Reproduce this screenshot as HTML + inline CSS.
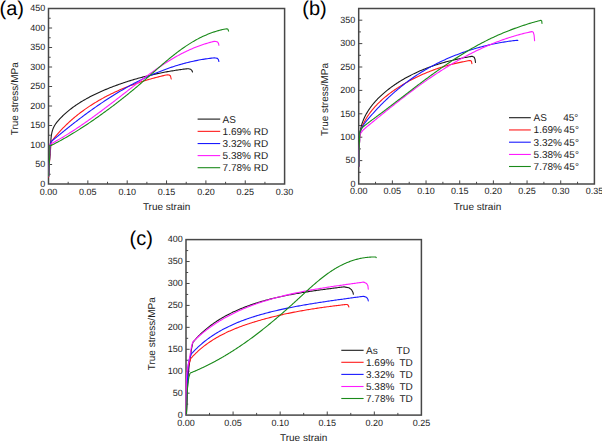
<!DOCTYPE html><html><head><meta charset="utf-8"><style>html,body{margin:0;padding:0;background:#fff;overflow:hidden}svg{display:block}text{font-family:"Liberation Sans",sans-serif;fill:#222;text-rendering:geometricPrecision}.t{font-size:9px}.l{font-size:10px}.p{font-size:20px;fill:#000}</style></head><body>
<svg width="602" height="441" viewBox="0 0 602 441">
<text x="-0.5" y="15.3" class="p">(a)</text>
<text x="302.3" y="14.6" class="p">(b)</text>
<text x="129.5" y="244.8" class="p">(c)</text>
<rect x="48.5" y="8.5" width="236.10" height="175.50" fill="none" stroke="#474747" stroke-width="1.5"/>
<line x1="68.17" y1="184.0" x2="68.17" y2="181.8" stroke="#474747" stroke-width="1"/>
<line x1="87.85" y1="184.0" x2="87.85" y2="180.4" stroke="#474747" stroke-width="1"/>
<line x1="107.53" y1="184.0" x2="107.53" y2="181.8" stroke="#474747" stroke-width="1"/>
<line x1="127.20" y1="184.0" x2="127.20" y2="180.4" stroke="#474747" stroke-width="1"/>
<line x1="146.88" y1="184.0" x2="146.88" y2="181.8" stroke="#474747" stroke-width="1"/>
<line x1="166.55" y1="184.0" x2="166.55" y2="180.4" stroke="#474747" stroke-width="1"/>
<line x1="186.23" y1="184.0" x2="186.23" y2="181.8" stroke="#474747" stroke-width="1"/>
<line x1="205.90" y1="184.0" x2="205.90" y2="180.4" stroke="#474747" stroke-width="1"/>
<line x1="225.58" y1="184.0" x2="225.58" y2="181.8" stroke="#474747" stroke-width="1"/>
<line x1="245.25" y1="184.0" x2="245.25" y2="180.4" stroke="#474747" stroke-width="1"/>
<line x1="264.93" y1="184.0" x2="264.93" y2="181.8" stroke="#474747" stroke-width="1"/>
<line x1="48.5" y1="174.25" x2="50.7" y2="174.25" stroke="#474747" stroke-width="1"/>
<line x1="48.5" y1="164.50" x2="52.1" y2="164.50" stroke="#474747" stroke-width="1"/>
<line x1="48.5" y1="154.75" x2="50.7" y2="154.75" stroke="#474747" stroke-width="1"/>
<line x1="48.5" y1="145.00" x2="52.1" y2="145.00" stroke="#474747" stroke-width="1"/>
<line x1="48.5" y1="135.25" x2="50.7" y2="135.25" stroke="#474747" stroke-width="1"/>
<line x1="48.5" y1="125.50" x2="52.1" y2="125.50" stroke="#474747" stroke-width="1"/>
<line x1="48.5" y1="115.75" x2="50.7" y2="115.75" stroke="#474747" stroke-width="1"/>
<line x1="48.5" y1="106.00" x2="52.1" y2="106.00" stroke="#474747" stroke-width="1"/>
<line x1="48.5" y1="96.25" x2="50.7" y2="96.25" stroke="#474747" stroke-width="1"/>
<line x1="48.5" y1="86.50" x2="52.1" y2="86.50" stroke="#474747" stroke-width="1"/>
<line x1="48.5" y1="76.75" x2="50.7" y2="76.75" stroke="#474747" stroke-width="1"/>
<line x1="48.5" y1="67.00" x2="52.1" y2="67.00" stroke="#474747" stroke-width="1"/>
<line x1="48.5" y1="57.25" x2="50.7" y2="57.25" stroke="#474747" stroke-width="1"/>
<line x1="48.5" y1="47.50" x2="52.1" y2="47.50" stroke="#474747" stroke-width="1"/>
<line x1="48.5" y1="37.75" x2="50.7" y2="37.75" stroke="#474747" stroke-width="1"/>
<line x1="48.5" y1="28.00" x2="52.1" y2="28.00" stroke="#474747" stroke-width="1"/>
<line x1="48.5" y1="18.25" x2="50.7" y2="18.25" stroke="#474747" stroke-width="1"/>
<text x="48.50" y="194.70" text-anchor="middle" class="t">0.00</text>
<text x="87.85" y="194.70" text-anchor="middle" class="t">0.05</text>
<text x="127.20" y="194.70" text-anchor="middle" class="t">0.10</text>
<text x="166.55" y="194.70" text-anchor="middle" class="t">0.15</text>
<text x="205.90" y="194.70" text-anchor="middle" class="t">0.20</text>
<text x="245.25" y="194.70" text-anchor="middle" class="t">0.25</text>
<text x="284.60" y="194.70" text-anchor="middle" class="t">0.30</text>
<text x="45.20" y="186.80" text-anchor="end" class="t">0</text>
<text x="45.20" y="167.30" text-anchor="end" class="t">50</text>
<text x="45.20" y="147.80" text-anchor="end" class="t">100</text>
<text x="45.20" y="128.30" text-anchor="end" class="t">150</text>
<text x="45.20" y="108.80" text-anchor="end" class="t">200</text>
<text x="45.20" y="89.30" text-anchor="end" class="t">250</text>
<text x="45.20" y="69.80" text-anchor="end" class="t">300</text>
<text x="45.20" y="50.30" text-anchor="end" class="t">350</text>
<text x="45.20" y="30.80" text-anchor="end" class="t">400</text>
<text x="45.20" y="11.30" text-anchor="end" class="t">450</text>
<text x="166.6" y="210" text-anchor="middle" class="l">True strain</text>
<text transform="translate(17.7,98.8) rotate(-90)" text-anchor="middle" class="l">True stress/MPa</text>
<polyline points="48.70,176.00 49.30,165.00 49.80,155.00 50.10,147.00 50.40,143.00 50.79,141.92 50.86,140.70 50.94,139.48 51.04,138.27 51.16,137.07 51.31,135.88 51.49,134.70 51.70,133.53 51.94,132.38 52.23,131.25 52.55,130.14 52.93,129.06 53.35,128.00 53.82,126.97 54.35,125.96 54.93,124.99 55.55,124.04 56.22,123.11 56.92,122.20 57.65,121.31 58.40,120.44 59.17,119.58 59.95,118.74 60.74,117.90 61.55,117.08 62.37,116.26 63.19,115.46 64.03,114.67 64.88,113.89 65.74,113.12 66.61,112.36 67.49,111.61 68.38,110.87 69.28,110.13 70.19,109.41 71.10,108.70 72.03,108.00 72.96,107.31 73.90,106.62 74.86,105.95 75.81,105.29 76.78,104.63 77.75,103.98 78.73,103.34 79.72,102.71 80.72,102.09 81.72,101.48 82.72,100.87 83.74,100.28 84.76,99.69 85.78,99.11 86.81,98.53 87.85,97.97 88.89,97.41 89.93,96.86 90.98,96.31 92.04,95.78 93.09,95.25 94.16,94.72 95.22,94.21 96.29,93.70 97.36,93.19 98.44,92.70 99.51,92.21 100.59,91.72 101.68,91.24 102.76,90.77 103.85,90.30 104.94,89.84 106.02,89.38 107.12,88.93 108.21,88.49 109.30,88.05 110.39,87.61 111.49,87.18 112.58,86.76 113.68,86.34 114.78,85.92 115.87,85.51 116.97,85.11 118.07,84.71 119.17,84.32 120.28,83.93 121.38,83.54 122.48,83.16 123.59,82.79 124.69,82.42 125.80,82.05 126.91,81.69 128.02,81.34 129.13,80.98 130.24,80.64 131.35,80.30 132.47,79.96 133.58,79.63 134.70,79.30 135.82,78.98 136.94,78.66 138.05,78.34 139.18,78.03 140.30,77.73 141.42,77.43 142.54,77.13 143.67,76.84 144.80,76.55 145.92,76.27 147.05,75.99 148.18,75.71 149.31,75.44 150.44,75.17 151.58,74.91 152.71,74.65 153.85,74.40 154.99,74.15 156.13,73.90 157.27,73.66 158.41,73.42 159.55,73.19 160.69,72.96 161.84,72.73 162.98,72.51 164.13,72.29 165.28,72.08 166.43,71.87 167.58,71.66 168.73,71.46 169.89,71.26 171.04,71.06 172.20,70.87 173.36,70.68 174.52,70.49 175.68,70.31 176.84,70.13 178.01,69.96 179.17,69.79 180.34,69.62 181.51,69.46 182.68,69.30 183.85,69.14 185.02,68.99 186.19,68.84 187.37,68.69 188.50,68.70 190.50,69.20 191.80,70.30 192.50,72.00" fill="none" stroke="#1a1a1a" stroke-width="1.1" stroke-linejoin="round" stroke-linecap="round"/>
<polyline points="48.60,177.00 49.10,168.00 49.60,160.00 50.30,152.00 50.80,146.50 51.30,142.00 51.94,140.85 52.77,139.79 53.60,138.73 54.44,137.69 55.29,136.65 56.15,135.62 57.02,134.60 57.89,133.59 58.78,132.59 59.67,131.60 60.58,130.62 61.49,129.64 62.41,128.68 63.33,127.72 64.27,126.78 65.21,125.84 66.17,124.91 67.12,123.99 68.09,123.08 69.07,122.17 70.05,121.28 71.04,120.39 72.04,119.52 73.04,118.65 74.05,117.79 75.07,116.94 76.10,116.10 77.13,115.26 78.17,114.44 79.22,113.62 80.27,112.81 81.33,112.01 82.39,111.22 83.47,110.44 84.54,109.66 85.63,108.90 86.72,108.14 87.82,107.39 88.92,106.65 90.03,105.91 91.14,105.19 92.26,104.47 93.39,103.76 94.52,103.06 95.65,102.36 96.79,101.68 97.94,101.00 99.09,100.33 100.25,99.67 101.41,99.01 102.57,98.37 103.74,97.73 104.92,97.10 106.10,96.47 107.28,95.86 108.47,95.25 109.66,94.65 110.86,94.06 112.06,93.47 113.26,92.89 114.47,92.32 115.68,91.76 116.90,91.21 118.12,90.66 119.34,90.12 120.57,89.58 121.80,89.06 123.03,88.54 124.26,88.03 125.50,87.53 126.74,87.03 127.99,86.54 129.24,86.06 130.48,85.58 131.74,85.11 132.99,84.65 134.25,84.20 135.51,83.75 136.77,83.31 138.03,82.87 139.30,82.45 140.56,82.03 141.83,81.61 143.10,81.21 144.37,80.81 145.65,80.42 146.92,80.03 148.20,79.65 149.47,79.28 150.75,78.91 152.03,78.55 153.31,78.20 154.59,77.85 155.87,77.51 157.16,77.18 158.44,76.85 159.72,76.53 161.01,76.21 162.29,75.91 163.58,75.60 164.86,75.31 166.14,75.02 167.50,74.80 169.30,75.00 170.50,76.00 171.20,79.00" fill="none" stroke="#ff1a1a" stroke-width="1.1" stroke-linejoin="round" stroke-linecap="round"/>
<polyline points="48.70,176.00 49.20,166.00 49.60,158.00 50.00,150.00 50.20,145.50 50.60,143.20 51.11,141.65 52.16,140.76 53.21,139.88 54.27,139.00 55.33,138.11 56.39,137.23 57.46,136.35 58.53,135.47 59.60,134.59 60.67,133.72 61.74,132.84 62.82,131.96 63.90,131.09 64.98,130.22 66.07,129.34 67.15,128.47 68.24,127.60 69.33,126.74 70.43,125.87 71.53,125.01 72.63,124.14 73.73,123.28 74.83,122.43 75.94,121.57 77.05,120.71 78.16,119.86 79.28,119.01 80.40,118.17 81.52,117.32 82.64,116.48 83.77,115.64 84.89,114.80 86.02,113.97 87.16,113.14 88.29,112.31 89.43,111.48 90.57,110.66 91.72,109.84 92.86,109.02 94.01,108.21 95.16,107.40 96.32,106.60 97.47,105.79 98.63,105.00 99.79,104.20 100.96,103.41 102.13,102.62 103.30,101.84 104.47,101.06 105.64,100.28 106.82,99.51 108.00,98.75 109.19,97.98 110.37,97.23 111.56,96.47 112.75,95.72 113.94,94.98 115.14,94.24 116.34,93.50 117.54,92.77 118.75,92.05 119.95,91.33 121.16,90.62 122.38,89.91 123.59,89.20 124.81,88.50 126.03,87.81 127.25,87.12 128.48,86.44 129.71,85.76 130.94,85.09 132.18,84.43 133.41,83.77 134.65,83.11 135.90,82.47 137.14,81.83 138.39,81.19 139.64,80.56 140.89,79.94 142.15,79.32 143.41,78.71 144.67,78.11 145.94,77.52 147.21,76.93 148.48,76.35 149.75,75.77 151.03,75.20 152.30,74.64 153.59,74.09 154.87,73.54 156.16,73.00 157.45,72.47 158.74,71.94 160.04,71.43 161.34,70.92 162.64,70.42 163.94,69.92 165.25,69.44 166.56,68.96 167.87,68.49 169.19,68.03 170.51,67.57 171.83,67.13 173.15,66.69 174.48,66.26 175.81,65.84 177.14,65.43 178.48,65.03 179.82,64.63 181.16,64.25 182.50,63.87 183.85,63.50 185.20,63.14 186.55,62.79 187.91,62.45 189.27,62.12 190.63,61.80 191.99,61.49 193.36,61.19 194.73,60.89 196.11,60.61 197.48,60.34 198.86,60.07 200.24,59.82 201.63,59.57 203.02,59.34 204.41,59.12 205.80,58.90 207.20,58.70 208.60,58.51 210.00,58.33 211.41,58.15 212.82,57.99 214.23,57.84 215.60,58.00 217.40,58.40 218.40,59.60 218.90,61.50" fill="none" stroke="#1a1aff" stroke-width="1.1" stroke-linejoin="round" stroke-linecap="round"/>
<polyline points="48.70,176.00 49.20,166.00 49.60,158.00 49.80,150.00 49.70,144.60 50.99,143.89 52.27,143.20 53.55,142.49 54.83,141.78 56.10,141.07 57.37,140.35 58.63,139.62 59.89,138.89 61.15,138.15 62.41,137.41 63.66,136.66 64.90,135.90 66.15,135.14 67.39,134.37 68.62,133.60 69.86,132.83 71.09,132.04 72.31,131.26 73.54,130.47 74.76,129.67 75.98,128.87 77.20,128.07 78.41,127.26 79.62,126.44 80.83,125.63 82.03,124.80 83.24,123.98 84.44,123.15 85.63,122.32 86.83,121.48 88.02,120.64 89.21,119.79 90.40,118.95 91.59,118.10 92.78,117.24 93.96,116.39 95.14,115.53 96.32,114.66 97.50,113.80 98.68,112.93 99.85,112.06 101.03,111.19 102.20,110.31 103.37,109.43 104.54,108.56 105.71,107.67 106.87,106.79 108.04,105.90 109.21,105.02 110.37,104.13 111.53,103.24 112.70,102.35 113.86,101.46 115.02,100.56 116.18,99.67 117.34,98.77 118.50,97.87 119.66,96.98 120.82,96.08 121.97,95.18 123.13,94.28 124.29,93.38 125.45,92.48 126.61,91.58 127.76,90.68 128.92,89.78 130.08,88.88 131.24,87.98 132.40,87.08 133.56,86.18 134.71,85.28 135.88,84.38 137.04,83.49 138.20,82.59 139.36,81.70 140.53,80.81 141.69,79.92 142.86,79.04 144.03,78.16 145.20,77.28 146.37,76.40 147.55,75.53 148.72,74.66 149.90,73.80 151.08,72.94 152.27,72.08 153.45,71.23 154.64,70.39 155.83,69.55 157.03,68.71 158.22,67.88 159.43,67.06 160.63,66.25 161.84,65.44 163.05,64.63 164.27,63.84 165.49,63.05 166.71,62.27 167.94,61.50 169.17,60.73 170.40,59.98 171.65,59.23 172.89,58.49 174.14,57.76 175.40,57.04 176.66,56.33 177.92,55.63 179.19,54.93 180.47,54.25 181.75,53.58 183.04,52.92 184.33,52.28 185.63,51.64 186.93,51.01 188.25,50.40 189.56,49.80 190.89,49.21 192.22,48.63 193.56,48.07 194.90,47.51 196.25,46.98 197.61,46.45 198.98,45.94 200.35,45.44 201.73,44.96 203.12,44.49 204.51,44.04 205.92,43.60 207.33,43.18 208.75,42.77 210.17,42.38 211.61,42.01 213.05,41.65 214.51,41.30 216.00,41.50 217.60,42.10 218.50,43.30 218.90,45.30" fill="none" stroke="#ff1aff" stroke-width="1.1" stroke-linejoin="round" stroke-linecap="round"/>
<polyline points="48.70,176.00 49.20,166.00 49.60,158.00 49.80,150.00 49.70,145.20 51.20,145.42 52.45,144.79 53.70,144.15 54.95,143.50 56.20,142.85 57.44,142.20 58.68,141.53 59.92,140.86 61.15,140.18 62.39,139.50 63.62,138.81 64.84,138.11 66.07,137.41 67.29,136.71 68.51,135.99 69.73,135.28 70.94,134.55 72.16,133.82 73.37,133.09 74.57,132.35 75.78,131.61 76.98,130.86 78.18,130.10 79.38,129.34 80.57,128.58 81.76,127.81 82.95,127.04 84.14,126.27 85.33,125.49 86.51,124.71 87.69,123.92 88.87,123.13 90.04,122.33 91.21,121.54 92.38,120.74 93.55,119.93 94.72,119.13 95.88,118.32 97.04,117.50 98.20,116.69 99.36,115.87 100.51,115.05 101.66,114.22 102.81,113.40 103.96,112.57 105.10,111.73 106.25,110.90 107.39,110.06 108.53,109.22 109.66,108.37 110.80,107.53 111.93,106.68 113.06,105.82 114.18,104.97 115.31,104.11 116.43,103.25 117.55,102.38 118.67,101.51 119.79,100.64 120.91,99.77 122.02,98.89 123.13,98.01 124.24,97.13 125.35,96.25 126.45,95.36 127.56,94.47 128.66,93.57 129.76,92.68 130.85,91.78 131.95,90.87 133.04,89.97 134.14,89.06 135.23,88.15 136.32,87.23 137.40,86.31 138.49,85.39 139.57,84.47 140.65,83.54 141.73,82.61 142.81,81.68 143.89,80.75 144.96,79.81 146.04,78.87 147.11,77.92 148.18,76.98 149.25,76.03 150.32,75.09 151.39,74.14 152.46,73.19 153.53,72.25 154.60,71.30 155.68,70.35 156.75,69.41 157.82,68.46 158.89,67.52 159.97,66.58 161.05,65.65 162.12,64.71 163.20,63.78 164.29,62.86 165.37,61.93 166.46,61.01 167.55,60.10 168.64,59.19 169.74,58.29 170.83,57.39 171.94,56.50 173.04,55.61 174.15,54.74 175.27,53.87 176.38,53.00 177.51,52.15 178.63,51.30 179.77,50.46 180.90,49.63 182.05,48.81 183.20,48.00 184.35,47.20 185.51,46.40 186.67,45.62 187.85,44.85 189.02,44.10 190.21,43.35 191.40,42.62 192.60,41.89 193.81,41.19 195.02,40.49 196.24,39.81 197.47,39.14 198.71,38.48 199.95,37.85 201.21,37.22 202.47,36.61 203.74,36.02 205.02,35.44 206.31,34.88 207.61,34.33 208.92,33.80 210.24,33.29 211.57,32.80 212.91,32.32 214.26,31.87 215.62,31.43 216.99,31.01 218.37,30.61 219.76,30.23 221.17,29.87 222.58,29.53 224.01,29.21 225.45,28.92 226.80,28.70 227.90,29.30 228.60,31.10" fill="none" stroke="#1a8a1a" stroke-width="1.1" stroke-linejoin="round" stroke-linecap="round"/>
<line x1="197.6" y1="119.1" x2="220.2" y2="119.1" stroke="#1a1a1a" stroke-width="1.1"/>
<text x="222.6" y="122.60" class="l">AS</text>
<line x1="197.6" y1="131.35" x2="220.2" y2="131.35" stroke="#ff1a1a" stroke-width="1.1"/>
<text x="222.6" y="134.85" class="l">1.69% RD</text>
<line x1="197.6" y1="143.55" x2="220.2" y2="143.55" stroke="#1a1aff" stroke-width="1.1"/>
<text x="222.6" y="147.05" class="l">3.32% RD</text>
<line x1="197.6" y1="155.6" x2="220.2" y2="155.6" stroke="#ff1aff" stroke-width="1.1"/>
<text x="222.6" y="159.10" class="l">5.38% RD</text>
<line x1="197.6" y1="167.7" x2="220.2" y2="167.7" stroke="#1a8a1a" stroke-width="1.1"/>
<text x="222.6" y="171.20" class="l">7.78% RD</text>
<rect x="358.7" y="8.5" width="235.70" height="175.50" fill="none" stroke="#474747" stroke-width="1.5"/>
<line x1="375.54" y1="184.0" x2="375.54" y2="181.8" stroke="#474747" stroke-width="1"/>
<line x1="392.37" y1="184.0" x2="392.37" y2="180.4" stroke="#474747" stroke-width="1"/>
<line x1="409.21" y1="184.0" x2="409.21" y2="181.8" stroke="#474747" stroke-width="1"/>
<line x1="426.04" y1="184.0" x2="426.04" y2="180.4" stroke="#474747" stroke-width="1"/>
<line x1="442.88" y1="184.0" x2="442.88" y2="181.8" stroke="#474747" stroke-width="1"/>
<line x1="459.71" y1="184.0" x2="459.71" y2="180.4" stroke="#474747" stroke-width="1"/>
<line x1="476.55" y1="184.0" x2="476.55" y2="181.8" stroke="#474747" stroke-width="1"/>
<line x1="493.39" y1="184.0" x2="493.39" y2="180.4" stroke="#474747" stroke-width="1"/>
<line x1="510.22" y1="184.0" x2="510.22" y2="181.8" stroke="#474747" stroke-width="1"/>
<line x1="527.06" y1="184.0" x2="527.06" y2="180.4" stroke="#474747" stroke-width="1"/>
<line x1="543.89" y1="184.0" x2="543.89" y2="181.8" stroke="#474747" stroke-width="1"/>
<line x1="560.73" y1="184.0" x2="560.73" y2="180.4" stroke="#474747" stroke-width="1"/>
<line x1="577.56" y1="184.0" x2="577.56" y2="181.8" stroke="#474747" stroke-width="1"/>
<line x1="358.7" y1="172.30" x2="360.9" y2="172.30" stroke="#474747" stroke-width="1"/>
<line x1="358.7" y1="160.60" x2="362.3" y2="160.60" stroke="#474747" stroke-width="1"/>
<line x1="358.7" y1="148.90" x2="360.9" y2="148.90" stroke="#474747" stroke-width="1"/>
<line x1="358.7" y1="137.20" x2="362.3" y2="137.20" stroke="#474747" stroke-width="1"/>
<line x1="358.7" y1="125.50" x2="360.9" y2="125.50" stroke="#474747" stroke-width="1"/>
<line x1="358.7" y1="113.80" x2="362.3" y2="113.80" stroke="#474747" stroke-width="1"/>
<line x1="358.7" y1="102.10" x2="360.9" y2="102.10" stroke="#474747" stroke-width="1"/>
<line x1="358.7" y1="90.40" x2="362.3" y2="90.40" stroke="#474747" stroke-width="1"/>
<line x1="358.7" y1="78.70" x2="360.9" y2="78.70" stroke="#474747" stroke-width="1"/>
<line x1="358.7" y1="67.00" x2="362.3" y2="67.00" stroke="#474747" stroke-width="1"/>
<line x1="358.7" y1="55.30" x2="360.9" y2="55.30" stroke="#474747" stroke-width="1"/>
<line x1="358.7" y1="43.60" x2="362.3" y2="43.60" stroke="#474747" stroke-width="1"/>
<line x1="358.7" y1="31.90" x2="360.9" y2="31.90" stroke="#474747" stroke-width="1"/>
<line x1="358.7" y1="20.20" x2="362.3" y2="20.20" stroke="#474747" stroke-width="1"/>
<text x="358.70" y="194.30" text-anchor="middle" class="t">0.00</text>
<text x="392.37" y="194.30" text-anchor="middle" class="t">0.05</text>
<text x="426.04" y="194.30" text-anchor="middle" class="t">0.10</text>
<text x="459.71" y="194.30" text-anchor="middle" class="t">0.15</text>
<text x="493.39" y="194.30" text-anchor="middle" class="t">0.20</text>
<text x="527.06" y="194.30" text-anchor="middle" class="t">0.25</text>
<text x="560.73" y="194.30" text-anchor="middle" class="t">0.30</text>
<text x="594.40" y="194.30" text-anchor="middle" class="t">0.35</text>
<text x="355.40" y="186.80" text-anchor="end" class="t">0</text>
<text x="355.40" y="163.40" text-anchor="end" class="t">50</text>
<text x="355.40" y="140.00" text-anchor="end" class="t">100</text>
<text x="355.40" y="116.60" text-anchor="end" class="t">150</text>
<text x="355.40" y="93.20" text-anchor="end" class="t">200</text>
<text x="355.40" y="69.80" text-anchor="end" class="t">250</text>
<text x="355.40" y="46.40" text-anchor="end" class="t">300</text>
<text x="355.40" y="23.00" text-anchor="end" class="t">350</text>
<text x="477.5" y="209.6" text-anchor="middle" class="l">True strain</text>
<text transform="translate(327.8,99.4) rotate(-90)" text-anchor="middle" class="l">True stress/MPa</text>
<polyline points="358.90,166.00 359.20,150.00 359.60,140.00 359.61,139.02 359.63,137.83 359.68,136.64 359.75,135.46 359.85,134.29 359.98,133.14 360.13,131.99 360.30,130.86 360.50,129.73 360.73,128.62 360.98,127.51 361.25,126.42 361.55,125.34 361.87,124.26 362.21,123.20 362.57,122.15 362.96,121.10 363.36,120.07 363.79,119.05 364.24,118.03 364.70,117.03 365.19,116.04 365.69,115.05 366.22,114.08 366.76,113.12 367.32,112.16 367.90,111.22 368.49,110.28 369.10,109.36 369.73,108.44 370.37,107.53 371.03,106.64 371.70,105.75 372.39,104.87 373.09,104.00 373.81,103.14 374.54,102.29 375.28,101.45 376.04,100.62 376.80,99.80 377.58,98.98 378.37,98.18 379.17,97.38 379.98,96.60 380.80,95.82 381.63,95.05 382.47,94.29 383.32,93.54 384.18,92.80 385.04,92.06 385.92,91.34 386.80,90.62 387.68,89.91 388.58,89.22 389.47,88.53 390.38,87.84 391.29,87.17 392.20,86.50 393.12,85.85 394.05,85.20 394.98,84.56 395.91,83.93 396.85,83.30 397.80,82.69 398.75,82.08 399.70,81.48 400.66,80.89 401.63,80.30 402.59,79.73 403.57,79.16 404.54,78.60 405.52,78.04 406.51,77.50 407.50,76.96 408.49,76.43 409.48,75.90 410.49,75.39 411.49,74.88 412.50,74.38 413.51,73.88 414.52,73.40 415.54,72.92 416.56,72.44 417.59,71.98 418.62,71.52 419.65,71.07 420.68,70.62 421.72,70.18 422.76,69.75 423.80,69.32 424.85,68.91 425.90,68.49 426.95,68.09 428.01,67.69 429.06,67.30 430.12,66.91 431.18,66.53 432.25,66.16 433.31,65.79 434.38,65.43 435.45,65.07 436.52,64.72 437.60,64.38 438.67,64.04 439.75,63.71 440.83,63.39 441.91,63.07 442.99,62.75 444.08,62.44 445.16,62.14 446.25,61.84 447.33,61.55 448.42,61.26 449.51,60.98 450.60,60.71 451.70,60.44 452.79,60.17 453.88,59.91 454.98,59.66 456.07,59.41 457.17,59.16 458.26,58.92 459.36,58.69 460.46,58.46 461.55,58.23 462.65,58.01 463.75,57.79 464.85,57.58 465.94,57.38 467.04,57.17 468.14,56.98 469.23,56.78 470.33,56.59 471.43,56.41 472.60,56.40 474.20,57.30 475.00,59.20 475.50,62.50" fill="none" stroke="#1a1a1a" stroke-width="1.1" stroke-linejoin="round" stroke-linecap="round"/>
<polyline points="358.90,166.00 359.20,150.00 359.60,140.00 359.45,138.83 359.52,137.65 359.63,136.49 359.78,135.34 359.97,134.20 360.19,133.08 360.44,131.96 360.73,130.86 361.04,129.77 361.39,128.69 361.76,127.62 362.16,126.56 362.59,125.51 363.04,124.48 363.52,123.45 364.02,122.44 364.54,121.44 365.07,120.44 365.63,119.46 366.21,118.49 366.80,117.52 367.40,116.57 368.02,115.63 368.66,114.69 369.31,113.77 369.98,112.85 370.66,111.95 371.35,111.05 372.06,110.16 372.78,109.29 373.52,108.42 374.26,107.56 375.02,106.71 375.79,105.87 376.58,105.04 377.37,104.21 378.17,103.40 378.99,102.60 379.82,101.80 380.65,101.01 381.50,100.23 382.35,99.46 383.22,98.70 384.09,97.95 384.98,97.20 385.87,96.47 386.77,95.74 387.67,95.02 388.59,94.30 389.51,93.60 390.43,92.90 391.37,92.22 392.31,91.54 393.25,90.86 394.20,90.20 395.16,89.54 396.12,88.89 397.09,88.25 398.06,87.62 399.03,86.99 400.01,86.37 400.99,85.76 401.98,85.15 402.96,84.56 403.95,83.97 404.94,83.38 405.94,82.81 406.94,82.24 407.94,81.67 408.94,81.12 409.94,80.57 410.95,80.03 411.96,79.50 412.97,78.97 413.99,78.45 415.01,77.94 416.03,77.43 417.05,76.93 418.08,76.44 419.11,75.95 420.14,75.47 421.17,75.00 422.21,74.54 423.25,74.08 424.29,73.63 425.33,73.18 426.38,72.74 427.43,72.31 428.48,71.89 429.54,71.47 430.59,71.06 431.65,70.65 432.72,70.25 433.78,69.86 434.85,69.48 435.92,69.10 436.99,68.72 438.07,68.36 439.14,68.00 440.22,67.64 441.31,67.30 442.39,66.96 443.48,66.62 444.57,66.30 445.67,65.97 446.76,65.66 447.86,65.35 448.96,65.05 450.06,64.75 451.17,64.46 452.28,64.17 453.39,63.90 454.50,63.62 455.62,63.36 456.74,63.10 457.86,62.85 458.98,62.60 460.11,62.36 461.24,62.12 462.37,61.89 463.50,61.67 464.64,61.45 465.78,61.24 466.92,61.03 468.06,60.83 469.21,60.64 470.30,60.50 471.40,61.20 471.90,63.60" fill="none" stroke="#ff1a1a" stroke-width="1.1" stroke-linejoin="round" stroke-linecap="round"/>
<polyline points="358.90,166.00 359.20,150.00 359.60,140.00 359.51,138.64 359.46,137.23 359.51,135.86 359.66,134.53 359.89,133.23 360.20,131.97 360.59,130.75 361.05,129.55 361.57,128.39 362.15,127.25 362.78,126.14 363.46,125.05 364.18,123.99 364.94,122.95 365.73,121.92 366.54,120.91 367.37,119.91 368.20,118.92 369.05,117.93 369.90,116.94 370.75,115.96 371.61,114.98 372.47,114.01 373.34,113.04 374.22,112.07 375.10,111.10 375.98,110.15 376.87,109.19 377.76,108.24 378.66,107.29 379.57,106.35 380.48,105.41 381.39,104.48 382.31,103.55 383.24,102.63 384.17,101.71 385.10,100.79 386.04,99.88 386.99,98.98 387.94,98.08 388.89,97.19 389.85,96.30 390.82,95.42 391.79,94.54 392.76,93.67 393.74,92.80 394.73,91.94 395.72,91.08 396.71,90.24 397.71,89.39 398.72,88.56 399.72,87.73 400.74,86.90 401.76,86.08 402.78,85.27 403.81,84.46 404.84,83.67 405.88,82.87 406.92,82.09 407.97,81.31 409.02,80.54 410.08,79.77 411.14,79.01 412.21,78.26 413.28,77.52 414.36,76.78 415.44,76.06 416.52,75.33 417.61,74.62 418.71,73.91 419.81,73.21 420.91,72.52 422.02,71.84 423.13,71.16 424.25,70.49 425.37,69.82 426.49,69.17 427.62,68.52 428.75,67.88 429.89,67.24 431.03,66.62 432.18,66.00 433.33,65.39 434.48,64.78 435.64,64.18 436.80,63.59 437.96,63.01 439.13,62.43 440.30,61.86 441.47,61.30 442.65,60.74 443.83,60.20 445.02,59.66 446.21,59.12 447.40,58.60 448.59,58.08 449.79,57.56 450.99,57.06 452.20,56.56 453.41,56.07 454.62,55.58 455.83,55.11 457.04,54.64 458.26,54.17 459.49,53.72 460.71,53.27 461.94,52.83 463.17,52.39 464.40,51.96 465.63,51.54 466.87,51.13 468.11,50.72 469.35,50.32 470.60,49.93 471.84,49.54 473.09,49.16 474.34,48.79 475.59,48.43 476.85,48.07 478.11,47.72 479.37,47.37 480.63,47.03 481.89,46.70 483.15,46.38 484.42,46.06 485.69,45.75 486.96,45.45 488.23,45.15 489.50,44.86 490.78,44.58 492.05,44.30 493.33,44.03 494.61,43.77 495.89,43.51 497.17,43.26 498.45,43.02 499.73,42.79 501.02,42.56 502.30,42.33 503.59,42.12 504.88,41.91 506.17,41.71 507.45,41.51 508.74,41.32 510.03,41.14 511.33,40.97 512.62,40.80 513.91,40.64 515.20,40.48 516.50,40.33 517.80,40.40" fill="none" stroke="#1a1aff" stroke-width="1.1" stroke-linejoin="round" stroke-linecap="round"/>
<polyline points="358.90,166.00 359.20,150.00 359.70,137.20 359.66,135.71 360.10,134.50 360.66,133.37 361.32,132.32 362.07,131.32 362.89,130.38 363.78,129.48 364.71,128.61 365.67,127.77 366.65,126.94 367.65,126.12 368.65,125.30 369.65,124.48 370.65,123.66 371.65,122.84 372.65,122.03 373.65,121.21 374.65,120.39 375.65,119.57 376.66,118.76 377.66,117.94 378.66,117.12 379.66,116.31 380.67,115.49 381.67,114.68 382.68,113.86 383.68,113.05 384.69,112.24 385.70,111.42 386.70,110.61 387.71,109.80 388.72,108.99 389.73,108.18 390.74,107.38 391.75,106.57 392.77,105.77 393.78,104.96 394.80,104.16 395.81,103.36 396.83,102.56 397.85,101.76 398.86,100.96 399.88,100.16 400.91,99.37 401.93,98.58 402.95,97.79 403.98,97.00 405.00,96.21 406.03,95.42 407.06,94.64 408.09,93.86 409.12,93.07 410.16,92.30 411.19,91.52 412.23,90.74 413.27,89.97 414.31,89.20 415.35,88.43 416.39,87.67 417.44,86.90 418.48,86.14 419.53,85.38 420.58,84.63 421.64,83.87 422.69,83.12 423.75,82.37 424.81,81.63 425.87,80.88 426.93,80.14 427.99,79.41 429.06,78.67 430.13,77.94 431.20,77.21 432.27,76.48 433.35,75.76 434.42,75.04 435.50,74.32 436.59,73.61 437.67,72.90 438.75,72.19 439.84,71.49 440.93,70.79 442.02,70.09 443.12,69.40 444.22,68.71 445.31,68.03 446.42,67.34 447.52,66.67 448.62,65.99 449.73,65.32 450.84,64.65 451.95,63.99 453.07,63.33 454.18,62.68 455.30,62.03 456.42,61.38 457.55,60.74 458.67,60.10 459.80,59.47 460.93,58.84 462.06,58.22 463.20,57.60 464.34,56.98 465.48,56.37 466.62,55.77 467.76,55.17 468.91,54.57 470.06,53.98 471.21,53.40 472.36,52.82 473.52,52.24 474.68,51.67 475.84,51.10 477.00,50.54 478.17,49.99 479.33,49.44 480.50,48.89 481.68,48.35 482.85,47.82 484.03,47.29 485.21,46.77 486.39,46.25 487.58,45.74 488.77,45.24 489.96,44.74 491.15,44.24 492.34,43.75 493.54,43.27 494.74,42.80 495.94,42.33 497.15,41.86 498.36,41.41 499.57,40.95 500.78,40.51 501.99,40.07 503.21,39.64 504.43,39.21 505.66,38.79 506.88,38.38 508.11,37.98 509.34,37.58 510.57,37.18 511.81,36.80 513.05,36.42 514.29,36.05 515.53,35.68 516.78,35.32 518.03,34.97 519.28,34.63 520.53,34.29 521.79,33.96 523.05,33.64 524.31,33.33 525.58,33.02 526.85,32.72 528.12,32.43 529.39,32.14 530.67,31.86 531.90,31.60 533.30,32.30 534.10,35.20 534.60,40.80" fill="none" stroke="#ff1aff" stroke-width="1.1" stroke-linejoin="round" stroke-linecap="round"/>
<polyline points="358.90,166.00 359.20,150.00 359.40,142.00 359.70,133.10 360.02,131.57 360.59,130.23 361.32,129.02 362.18,127.93 363.14,126.93 364.19,126.00 365.28,125.11 366.41,124.24 367.54,123.37 368.67,122.51 369.82,121.65 370.96,120.79 372.11,119.93 373.26,119.08 374.41,118.22 375.56,117.37 376.71,116.51 377.86,115.65 379.01,114.80 380.16,113.94 381.31,113.08 382.45,112.22 383.60,111.35 384.74,110.49 385.88,109.62 387.02,108.76 388.16,107.89 389.30,107.02 390.44,106.15 391.57,105.28 392.71,104.41 393.84,103.54 394.98,102.67 396.11,101.80 397.25,100.93 398.38,100.06 399.51,99.19 400.65,98.32 401.78,97.45 402.91,96.58 404.05,95.70 405.18,94.83 406.31,93.96 407.45,93.09 408.58,92.22 409.71,91.36 410.85,90.49 411.99,89.62 413.12,88.75 414.26,87.89 415.40,87.02 416.54,86.16 417.68,85.30 418.82,84.43 419.96,83.57 421.10,82.71 422.25,81.86 423.40,81.00 424.54,80.15 425.69,79.29 426.84,78.44 428.00,77.59 429.15,76.75 430.31,75.90 431.46,75.06 432.62,74.22 433.79,73.38 434.95,72.54 436.12,71.71 437.28,70.88 438.45,70.05 439.62,69.22 440.80,68.40 441.97,67.58 443.15,66.76 444.33,65.95 445.51,65.14 446.70,64.33 447.88,63.53 449.07,62.73 450.26,61.93 451.46,61.14 452.65,60.35 453.85,59.57 455.05,58.79 456.26,58.01 457.46,57.24 458.67,56.47 459.88,55.71 461.09,54.95 462.31,54.19 463.53,53.44 464.75,52.70 465.98,51.96 467.20,51.22 468.43,50.49 469.67,49.77 470.90,49.05 472.14,48.34 473.38,47.63 474.63,46.93 475.88,46.23 477.13,45.54 478.38,44.85 479.64,44.17 480.90,43.50 482.16,42.83 483.43,42.17 484.70,41.52 485.97,40.87 487.25,40.23 488.53,39.60 489.81,38.97 491.10,38.35 492.39,37.73 493.68,37.13 494.98,36.53 496.28,35.93 497.59,35.35 498.90,34.77 500.21,34.20 501.52,33.64 502.84,33.08 504.16,32.53 505.48,31.99 506.81,31.45 508.14,30.92 509.47,30.40 510.81,29.88 512.15,29.38 513.49,28.88 514.83,28.38 516.18,27.90 517.53,27.42 518.88,26.94 520.23,26.48 521.59,26.02 522.95,25.56 524.31,25.12 525.68,24.68 527.04,24.25 528.41,23.82 529.78,23.40 531.15,22.99 532.52,22.59 533.90,22.19 535.28,21.80 536.66,21.41 538.04,21.04 539.42,20.66 540.80,20.30 541.70,20.90 542.00,23.50" fill="none" stroke="#1a8a1a" stroke-width="1.1" stroke-linejoin="round" stroke-linecap="round"/>
<line x1="509" y1="117.7" x2="530.8" y2="117.7" stroke="#1a1a1a" stroke-width="1.1"/>
<text x="533.6" y="121.20" class="l">AS</text>
<text x="563.2" y="121.20" class="l">45°</text>
<line x1="509" y1="129.95" x2="530.8" y2="129.95" stroke="#ff1a1a" stroke-width="1.1"/>
<text x="533.6" y="133.45" class="l">1.69%</text>
<text x="563.8" y="133.45" class="l">45°</text>
<line x1="509" y1="142.2" x2="530.8" y2="142.2" stroke="#1a1aff" stroke-width="1.1"/>
<text x="533.6" y="145.70" class="l">3.32%</text>
<text x="563.8" y="145.70" class="l">45°</text>
<line x1="509" y1="154.45" x2="530.8" y2="154.45" stroke="#ff1aff" stroke-width="1.1"/>
<text x="533.6" y="157.95" class="l">5.38%</text>
<text x="563.8" y="157.95" class="l">45°</text>
<line x1="509" y1="166.5" x2="530.8" y2="166.5" stroke="#1a8a1a" stroke-width="1.1"/>
<text x="533.6" y="170.00" class="l">7.78%</text>
<text x="563.8" y="170.00" class="l">45°</text>
<rect x="186.0" y="239.6" width="235.40" height="175.50" fill="none" stroke="#474747" stroke-width="1.5"/>
<line x1="209.54" y1="415.1" x2="209.54" y2="412.90000000000003" stroke="#474747" stroke-width="1"/>
<line x1="233.08" y1="415.1" x2="233.08" y2="411.5" stroke="#474747" stroke-width="1"/>
<line x1="256.62" y1="415.1" x2="256.62" y2="412.90000000000003" stroke="#474747" stroke-width="1"/>
<line x1="280.16" y1="415.1" x2="280.16" y2="411.5" stroke="#474747" stroke-width="1"/>
<line x1="303.70" y1="415.1" x2="303.70" y2="412.90000000000003" stroke="#474747" stroke-width="1"/>
<line x1="327.24" y1="415.1" x2="327.24" y2="411.5" stroke="#474747" stroke-width="1"/>
<line x1="350.78" y1="415.1" x2="350.78" y2="412.90000000000003" stroke="#474747" stroke-width="1"/>
<line x1="374.32" y1="415.1" x2="374.32" y2="411.5" stroke="#474747" stroke-width="1"/>
<line x1="397.86" y1="415.1" x2="397.86" y2="412.90000000000003" stroke="#474747" stroke-width="1"/>
<line x1="186.0" y1="404.13" x2="188.2" y2="404.13" stroke="#474747" stroke-width="1"/>
<line x1="186.0" y1="393.16" x2="189.6" y2="393.16" stroke="#474747" stroke-width="1"/>
<line x1="186.0" y1="382.19" x2="188.2" y2="382.19" stroke="#474747" stroke-width="1"/>
<line x1="186.0" y1="371.23" x2="189.6" y2="371.23" stroke="#474747" stroke-width="1"/>
<line x1="186.0" y1="360.26" x2="188.2" y2="360.26" stroke="#474747" stroke-width="1"/>
<line x1="186.0" y1="349.29" x2="189.6" y2="349.29" stroke="#474747" stroke-width="1"/>
<line x1="186.0" y1="338.32" x2="188.2" y2="338.32" stroke="#474747" stroke-width="1"/>
<line x1="186.0" y1="327.35" x2="189.6" y2="327.35" stroke="#474747" stroke-width="1"/>
<line x1="186.0" y1="316.38" x2="188.2" y2="316.38" stroke="#474747" stroke-width="1"/>
<line x1="186.0" y1="305.41" x2="189.6" y2="305.41" stroke="#474747" stroke-width="1"/>
<line x1="186.0" y1="294.44" x2="188.2" y2="294.44" stroke="#474747" stroke-width="1"/>
<line x1="186.0" y1="283.48" x2="189.6" y2="283.48" stroke="#474747" stroke-width="1"/>
<line x1="186.0" y1="272.51" x2="188.2" y2="272.51" stroke="#474747" stroke-width="1"/>
<line x1="186.0" y1="261.54" x2="189.6" y2="261.54" stroke="#474747" stroke-width="1"/>
<line x1="186.0" y1="250.57" x2="188.2" y2="250.57" stroke="#474747" stroke-width="1"/>
<text x="186.00" y="425.70" text-anchor="middle" class="t">0.00</text>
<text x="233.08" y="425.70" text-anchor="middle" class="t">0.05</text>
<text x="280.16" y="425.70" text-anchor="middle" class="t">0.10</text>
<text x="327.24" y="425.70" text-anchor="middle" class="t">0.15</text>
<text x="374.32" y="425.70" text-anchor="middle" class="t">0.20</text>
<text x="421.40" y="425.70" text-anchor="middle" class="t">0.25</text>
<text x="182.70" y="417.90" text-anchor="end" class="t">0</text>
<text x="182.70" y="395.96" text-anchor="end" class="t">50</text>
<text x="182.70" y="374.03" text-anchor="end" class="t">100</text>
<text x="182.70" y="352.09" text-anchor="end" class="t">150</text>
<text x="182.70" y="330.15" text-anchor="end" class="t">200</text>
<text x="182.70" y="308.21" text-anchor="end" class="t">250</text>
<text x="182.70" y="286.28" text-anchor="end" class="t">300</text>
<text x="182.70" y="264.34" text-anchor="end" class="t">350</text>
<text x="182.70" y="242.40" text-anchor="end" class="t">400</text>
<text x="303.7" y="441.3" text-anchor="middle" class="l">True strain</text>
<text transform="translate(155,333.8) rotate(-90)" text-anchor="middle" class="l">True stress/MPa</text>
<polyline points="186.50,414.00 187.00,400.00 187.60,385.00 188.20,375.00 189.10,366.00 190.30,357.00 191.50,349.00 192.60,343.60 192.81,342.48 193.58,341.55 194.36,340.64 195.14,339.74 195.94,338.85 196.74,337.97 197.55,337.11 198.37,336.25 199.20,335.41 200.04,334.58 200.89,333.76 201.74,332.95 202.60,332.16 203.47,331.37 204.35,330.59 205.23,329.83 206.12,329.08 207.02,328.33 207.92,327.60 208.84,326.88 209.76,326.17 210.68,325.46 211.62,324.77 212.55,324.09 213.50,323.42 214.45,322.75 215.41,322.10 216.38,321.46 217.35,320.82 218.32,320.20 219.31,319.58 220.29,318.97 221.29,318.38 222.29,317.79 223.29,317.21 224.30,316.64 225.31,316.07 226.33,315.52 227.36,314.97 228.39,314.44 229.42,313.91 230.46,313.38 231.50,312.87 232.55,312.36 233.60,311.87 234.65,311.38 235.71,310.89 236.78,310.42 237.84,309.95 238.91,309.49 239.99,309.03 241.06,308.59 242.14,308.15 243.23,307.71 244.31,307.29 245.40,306.87 246.50,306.46 247.59,306.05 248.69,305.65 249.79,305.25 250.90,304.87 252.00,304.49 253.11,304.11 254.22,303.74 255.34,303.38 256.45,303.02 257.57,302.67 258.69,302.32 259.82,301.98 260.94,301.64 262.07,301.31 263.20,300.99 264.33,300.67 265.47,300.36 266.60,300.05 267.74,299.74 268.88,299.45 270.02,299.15 271.17,298.86 272.31,298.58 273.46,298.30 274.60,298.02 275.75,297.75 276.90,297.49 278.05,297.22 279.21,296.97 280.36,296.71 281.52,296.46 282.67,296.22 283.83,295.98 284.99,295.74 286.15,295.50 287.31,295.27 288.47,295.05 289.63,294.82 290.79,294.60 291.95,294.39 293.12,294.17 294.28,293.96 295.45,293.76 296.61,293.55 297.78,293.35 298.94,293.15 300.11,292.96 301.27,292.76 302.44,292.57 303.60,292.39 304.77,292.20 305.93,292.02 307.10,291.84 308.26,291.66 309.43,291.49 310.59,291.31 311.76,291.14 312.92,290.97 314.08,290.80 315.24,290.64 316.41,290.47 317.57,290.31 318.73,290.15 319.89,289.99 321.04,289.83 322.20,289.67 323.36,289.51 324.51,289.36 325.67,289.20 326.82,289.05 327.97,288.90 329.12,288.75 330.27,288.60 331.42,288.45 332.57,288.30 333.71,288.15 334.86,288.00 336.00,287.85 337.14,287.70 338.27,287.55 339.41,287.41 340.54,287.26 341.68,287.11 342.81,286.96 343.94,286.81 345.30,287.10 348.90,287.80 351.40,289.60 352.90,292.20 353.40,294.30" fill="none" stroke="#1a1a1a" stroke-width="1.1" stroke-linejoin="round" stroke-linecap="round"/>
<polyline points="186.40,414.00 186.90,395.00 187.40,377.00 188.10,368.00 189.20,363.00 190.40,360.00 190.66,358.67 191.46,357.76 192.28,356.87 193.10,355.99 193.94,355.12 194.78,354.27 195.63,353.43 196.49,352.60 197.36,351.78 198.24,350.97 199.13,350.18 200.02,349.40 200.92,348.63 201.83,347.88 202.75,347.13 203.68,346.40 204.61,345.68 205.55,344.96 206.50,344.26 207.45,343.58 208.41,342.90 209.38,342.23 210.36,341.57 211.34,340.92 212.33,340.29 213.32,339.66 214.32,339.04 215.33,338.44 216.34,337.84 217.36,337.25 218.39,336.67 219.42,336.10 220.45,335.54 221.50,334.99 222.54,334.45 223.60,333.91 224.65,333.39 225.71,332.87 226.78,332.36 227.85,331.86 228.93,331.36 230.01,330.88 231.09,330.40 232.18,329.93 233.27,329.46 234.37,329.01 235.47,328.56 236.58,328.12 237.68,327.68 238.79,327.25 239.91,326.83 241.03,326.41 242.15,326.00 243.27,325.60 244.40,325.20 245.53,324.81 246.66,324.42 247.79,324.04 248.93,323.66 250.06,323.29 251.20,322.92 252.35,322.56 253.49,322.20 254.64,321.85 255.78,321.50 256.93,321.16 258.08,320.82 259.23,320.49 260.38,320.16 261.54,319.83 262.69,319.50 263.85,319.19 265.00,318.87 266.16,318.56 267.32,318.25 268.48,317.95 269.64,317.65 270.80,317.35 271.97,317.06 273.13,316.77 274.29,316.49 275.46,316.20 276.63,315.93 277.79,315.65 278.96,315.38 280.13,315.11 281.30,314.85 282.47,314.59 283.64,314.33 284.81,314.08 285.98,313.83 287.15,313.58 288.33,313.34 289.50,313.09 290.67,312.86 291.85,312.62 293.02,312.39 294.19,312.16 295.37,311.93 296.55,311.71 297.72,311.49 298.90,311.27 300.07,311.06 301.25,310.85 302.43,310.64 303.60,310.43 304.78,310.23 305.96,310.03 307.13,309.83 308.31,309.64 309.49,309.44 310.66,309.25 311.84,309.06 313.02,308.88 314.19,308.70 315.37,308.51 316.55,308.34 317.72,308.16 318.90,307.99 320.07,307.81 321.25,307.64 322.42,307.48 323.60,307.31 324.77,307.15 325.95,306.99 327.12,306.83 328.29,306.67 329.47,306.52 330.64,306.36 331.81,306.21 332.98,306.06 334.15,305.91 335.32,305.77 336.49,305.62 337.66,305.48 338.82,305.34 339.99,305.20 341.15,305.06 342.32,304.92 343.48,304.79 344.65,304.65 345.81,304.52 347.10,304.50 348.20,305.20 348.90,307.00" fill="none" stroke="#ff1a1a" stroke-width="1.1" stroke-linejoin="round" stroke-linecap="round"/>
<polyline points="186.40,414.00 186.90,395.00 187.60,375.00 188.30,364.50 189.20,359.40 190.90,355.30 191.19,354.10 192.00,353.20 192.82,352.31 193.65,351.43 194.48,350.56 195.33,349.71 196.18,348.86 197.03,348.03 197.90,347.21 198.77,346.40 199.65,345.60 200.54,344.82 201.43,344.04 202.33,343.28 203.24,342.52 204.15,341.78 205.07,341.05 206.00,340.33 206.93,339.61 207.87,338.91 208.82,338.22 209.77,337.54 210.73,336.87 211.69,336.21 212.66,335.56 213.64,334.92 214.62,334.29 215.60,333.66 216.60,333.05 217.59,332.45 218.60,331.85 219.60,331.27 220.62,330.69 221.64,330.12 222.66,329.56 223.69,329.01 224.72,328.47 225.76,327.93 226.80,327.41 227.85,326.89 228.90,326.38 229.95,325.88 231.01,325.38 232.08,324.89 233.14,324.42 234.22,323.94 235.29,323.48 236.37,323.02 237.45,322.57 238.54,322.13 239.63,321.69 240.73,321.26 241.82,320.84 242.92,320.42 244.03,320.01 245.13,319.61 246.24,319.21 247.36,318.82 248.47,318.44 249.59,318.06 250.71,317.68 251.83,317.32 252.96,316.95 254.09,316.60 255.22,316.24 256.35,315.90 257.49,315.56 258.62,315.22 259.76,314.89 260.90,314.56 262.05,314.24 263.19,313.92 264.34,313.61 265.48,313.30 266.63,313.00 267.78,312.70 268.93,312.40 270.08,312.11 271.24,311.82 272.39,311.54 273.55,311.25 274.70,310.98 275.86,310.70 277.02,310.43 278.18,310.16 279.34,309.90 280.50,309.64 281.66,309.38 282.82,309.13 283.98,308.88 285.14,308.63 286.31,308.39 287.47,308.14 288.64,307.91 289.80,307.67 290.97,307.44 292.14,307.21 293.30,306.98 294.47,306.75 295.64,306.53 296.81,306.31 297.98,306.09 299.15,305.88 300.32,305.67 301.49,305.46 302.66,305.25 303.83,305.04 305.00,304.84 306.17,304.64 307.34,304.44 308.51,304.24 309.68,304.05 310.85,303.86 312.02,303.67 313.19,303.48 314.36,303.29 315.54,303.10 316.71,302.92 317.88,302.74 319.05,302.55 320.22,302.38 321.39,302.20 322.56,302.02 323.73,301.84 324.90,301.67 326.07,301.50 327.24,301.33 328.41,301.16 329.58,300.99 330.74,300.82 331.91,300.65 333.08,300.48 334.25,300.32 335.41,300.15 336.58,299.99 337.74,299.82 338.91,299.66 340.07,299.50 341.23,299.34 342.40,299.18 343.56,299.01 344.72,298.85 345.88,298.69 347.04,298.53 348.20,298.37 349.36,298.21 350.51,298.05 351.67,297.89 352.82,297.73 353.98,297.57 355.13,297.42 356.28,297.26 357.44,297.09 358.59,296.93 359.74,296.77 360.88,296.61 362.03,296.45 363.18,296.29 364.50,296.60 366.80,297.60 367.90,299.20 368.30,301.00" fill="none" stroke="#1a1aff" stroke-width="1.1" stroke-linejoin="round" stroke-linecap="round"/>
<polyline points="186.20,414.00 186.10,395.00 186.30,381.00 187.00,371.30 188.10,365.60 189.20,360.00 190.40,353.10 191.50,346.60 192.60,342.60 193.09,341.67 193.90,340.88 194.72,340.09 195.54,339.31 196.36,338.53 197.19,337.77 198.02,337.01 198.86,336.27 199.71,335.52 200.55,334.79 201.41,334.07 202.26,333.35 203.13,332.64 203.99,331.94 204.87,331.24 205.74,330.56 206.62,329.88 207.51,329.20 208.40,328.54 209.29,327.88 210.19,327.23 211.09,326.59 211.99,325.95 212.91,325.32 213.82,324.70 214.74,324.09 215.66,323.48 216.59,322.88 217.52,322.28 218.45,321.70 219.39,321.12 220.33,320.54 221.27,319.97 222.22,319.41 223.18,318.86 224.13,318.31 225.09,317.77 226.05,317.23 227.02,316.70 227.99,316.18 228.96,315.66 229.94,315.15 230.92,314.65 231.90,314.15 232.89,313.66 233.88,313.17 234.87,312.69 235.87,312.21 236.86,311.74 237.87,311.28 238.87,310.82 239.88,310.37 240.89,309.92 241.90,309.48 242.92,309.04 243.93,308.61 244.96,308.18 245.98,307.76 247.00,307.35 248.03,306.93 249.06,306.53 250.10,306.13 251.13,305.73 252.17,305.34 253.21,304.96 254.25,304.57 255.30,304.20 256.35,303.83 257.40,303.46 258.45,303.10 259.50,302.74 260.55,302.39 261.61,302.04 262.67,301.69 263.73,301.35 264.79,301.01 265.86,300.68 266.93,300.35 267.99,300.03 269.06,299.71 270.13,299.40 271.21,299.08 272.28,298.78 273.36,298.47 274.43,298.17 275.51,297.88 276.59,297.58 277.68,297.29 278.76,297.01 279.84,296.73 280.93,296.45 282.02,296.18 283.10,295.90 284.19,295.64 285.28,295.37 286.37,295.11 287.47,294.85 288.56,294.60 289.65,294.35 290.75,294.10 291.85,293.85 292.94,293.61 294.04,293.37 295.14,293.14 296.24,292.90 297.34,292.67 298.44,292.44 299.54,292.22 300.64,292.00 301.75,291.78 302.85,291.56 303.95,291.34 305.06,291.13 306.16,290.92 307.26,290.71 308.37,290.51 309.47,290.30 310.58,290.10 311.69,289.91 312.79,289.71 313.90,289.51 315.00,289.32 316.11,289.13 317.22,288.94 318.32,288.76 319.43,288.57 320.53,288.39 321.64,288.21 322.75,288.03 323.85,287.85 324.96,287.67 326.06,287.50 327.17,287.33 328.27,287.16 329.37,286.99 330.48,286.82 331.58,286.65 332.68,286.48 333.78,286.32 334.88,286.15 335.99,285.99 337.09,285.83 338.18,285.67 339.28,285.51 340.38,285.35 341.48,285.19 342.57,285.03 343.67,284.88 344.76,284.72 345.86,284.57 346.95,284.41 348.04,284.26 349.13,284.11 350.22,283.95 351.31,283.80 352.39,283.65 353.48,283.50 354.56,283.35 355.65,283.20 356.73,283.04 357.81,282.89 358.89,282.74 359.96,282.59 361.04,282.44 362.11,282.29 363.18,282.14 364.50,282.40 366.60,283.40 367.90,285.80 368.30,289.20" fill="none" stroke="#ff1aff" stroke-width="1.1" stroke-linejoin="round" stroke-linecap="round"/>
<polyline points="186.40,414.00 187.00,400.00 187.50,388.00 188.30,381.00 188.90,377.00 189.80,374.10 190.04,373.15 190.82,372.83 191.60,372.51 192.38,372.19 193.16,371.86 193.94,371.53 194.71,371.20 195.49,370.87 196.26,370.53 197.03,370.19 197.79,369.85 198.56,369.51 199.32,369.16 200.09,368.81 200.85,368.46 201.61,368.11 202.36,367.76 203.12,367.40 203.87,367.04 204.62,366.68 205.38,366.32 206.12,365.95 206.87,365.58 207.62,365.21 208.36,364.84 209.10,364.46 209.84,364.09 210.58,363.71 211.32,363.33 212.06,362.94 212.79,362.56 213.52,362.17 214.26,361.78 214.99,361.39 215.71,360.99 216.44,360.60 217.17,360.20 217.89,359.80 218.61,359.40 219.33,358.99 220.05,358.59 220.77,358.18 221.49,357.77 222.20,357.36 222.92,356.94 223.63,356.53 224.34,356.11 225.05,355.69 225.76,355.27 226.46,354.84 227.17,354.42 227.87,353.99 228.57,353.56 229.27,353.13 229.97,352.69 230.67,352.26 231.37,351.82 232.06,351.38 232.76,350.94 233.45,350.50 234.14,350.06 234.83,349.61 235.52,349.16 236.21,348.72 236.90,348.26 237.58,347.81 238.27,347.36 238.95,346.90 239.63,346.44 240.32,345.98 241.00,345.52 241.67,345.06 242.35,344.60 243.03,344.13 243.70,343.66 244.38,343.19 245.05,342.72 245.72,342.25 246.39,341.77 247.06,341.30 247.73,340.82 248.40,340.34 249.06,339.86 249.73,339.38 250.39,338.90 251.05,338.41 251.72,337.93 252.38,337.44 253.04,336.95 253.70,336.46 254.35,335.97 255.01,335.47 255.67,334.98 256.32,334.48 256.98,333.98 257.63,333.49 258.28,332.98 258.93,332.48 259.58,331.98 260.23,331.48 260.88,330.97 261.53,330.46 262.18,329.95 262.82,329.44 263.47,328.93 264.11,328.42 264.76,327.91 265.40,327.39 266.04,326.88 266.68,326.36 267.32,325.84 267.96,325.32 268.60,324.80 269.24,324.28 269.87,323.75 270.51,323.23 271.15,322.70 271.78,322.18 272.42,321.65 273.05,321.12 273.68,320.59 274.31,320.06 274.95,319.53 275.58,318.99 276.21,318.46 276.84,317.92 277.46,317.39 278.09,316.85 278.72,316.31 279.35,315.77 279.97,315.23 280.60,314.69 281.22,314.15 281.85,313.61 282.47,313.06 283.10,312.52 283.72,311.97 284.34,311.42 284.96,310.88 285.59,310.33 286.21,309.78 286.83,309.23 287.45,308.68 288.07,308.12 288.68,307.57 289.30,307.02 289.92,306.46 290.54,305.91 291.16,305.35 291.77,304.79 292.39,304.24 293.00,303.68 293.62,303.12 294.24,302.56 294.85,302.00 295.46,301.44 296.08,300.88 296.69,300.31 297.31,299.75 297.92,299.19 298.53,298.62 299.14,298.06 299.76,297.49 300.37,296.92 300.98,296.36 301.59,295.79 302.20,295.23 302.82,294.66 303.43,294.09 304.04,293.53 304.65,292.96 305.27,292.40 305.88,291.83 306.49,291.27 307.11,290.71 307.72,290.14 308.34,289.58 308.96,289.02 309.57,288.46 310.19,287.91 310.81,287.35 311.43,286.80 312.05,286.25 312.67,285.70 313.30,285.15 313.92,284.60 314.55,284.06 315.17,283.51 315.80,282.97 316.43,282.44 317.06,281.90 317.69,281.37 318.33,280.84 318.96,280.31 319.60,279.79 320.24,279.27 320.88,278.75 321.53,278.24 322.17,277.73 322.82,277.22 323.47,276.72 324.12,276.22 324.77,275.72 325.43,275.23 326.09,274.74 326.75,274.26 327.41,273.78 328.08,273.30 328.75,272.83 329.42,272.37 330.09,271.91 330.77,271.45 331.45,271.00 332.13,270.55 332.82,270.11 333.51,269.67 334.20,269.24 334.90,268.82 335.59,268.40 336.29,267.98 337.00,267.58 337.71,267.17 338.42,266.78 339.13,266.39 339.85,266.00 340.58,265.62 341.30,265.25 342.03,264.89 342.77,264.53 343.50,264.18 344.24,263.83 344.99,263.50 345.74,263.17 346.49,262.84 347.25,262.53 348.01,262.22 348.77,261.92 349.53,261.63 350.31,261.34 351.08,261.06 351.86,260.79 352.64,260.53 353.42,260.28 354.21,260.04 355.00,259.80 355.79,259.57 356.59,259.35 357.39,259.14 358.20,258.94 359.00,258.75 359.81,258.57 360.63,258.40 361.44,258.23 362.26,258.08 363.09,257.93 363.91,257.80 364.74,257.68 365.57,257.56 366.41,257.46 367.25,257.36 368.09,257.28 368.93,257.21 369.78,257.14 370.63,257.09 371.48,257.05 372.34,257.02 373.19,257.00 374.05,256.99 374.92,257.00 375.78,257.01 376.20,257.60" fill="none" stroke="#1a8a1a" stroke-width="1.1" stroke-linejoin="round" stroke-linecap="round"/>
<line x1="341.3" y1="350.3" x2="363.6" y2="350.3" stroke="#1a1a1a" stroke-width="1.1"/>
<text x="366.0" y="353.80" class="l">As</text>
<text x="396.6" y="353.80" class="l">TD</text>
<line x1="341.3" y1="362.3" x2="363.6" y2="362.3" stroke="#ff1a1a" stroke-width="1.1"/>
<text x="366.0" y="365.80" class="l">1.69%</text>
<text x="399.5" y="365.80" class="l">TD</text>
<line x1="341.3" y1="374.4" x2="363.6" y2="374.4" stroke="#1a1aff" stroke-width="1.1"/>
<text x="366.0" y="377.90" class="l">3.32%</text>
<text x="399.5" y="377.90" class="l">TD</text>
<line x1="341.3" y1="386.5" x2="363.6" y2="386.5" stroke="#ff1aff" stroke-width="1.1"/>
<text x="366.0" y="390.00" class="l">5.38%</text>
<text x="399.5" y="390.00" class="l">TD</text>
<line x1="341.3" y1="398.5" x2="363.6" y2="398.5" stroke="#1a8a1a" stroke-width="1.1"/>
<text x="366.0" y="402.00" class="l">7.78%</text>
<text x="399.5" y="402.00" class="l">TD</text>
</svg></body></html>
